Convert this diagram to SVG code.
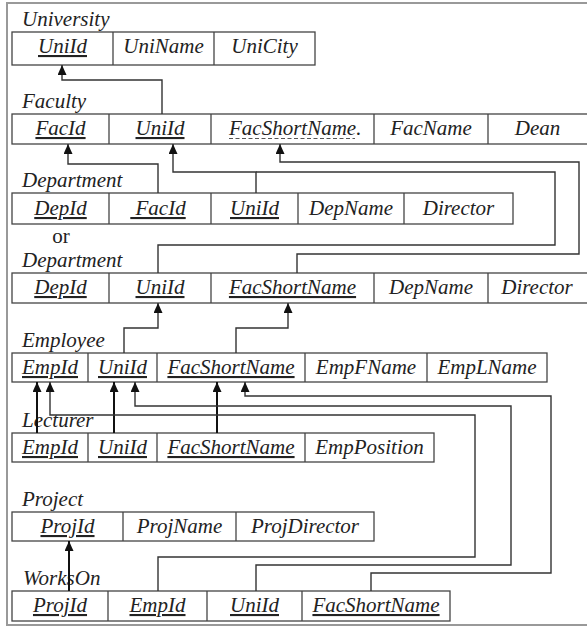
<svg xmlns="http://www.w3.org/2000/svg" width="587" height="628" viewBox="0 0 587 628">
<style>
.t{font-family:"Liberation Serif","Times New Roman",serif;font-style:italic;font-size:21px;fill:#222;}
.c{text-anchor:middle;}
.u{text-decoration:underline;text-decoration-thickness:1px;text-underline-offset:2px;}
.r{font-style:normal;}
.box{fill:none;stroke:#444;stroke-width:1.3;}
.dv{stroke:#444;stroke-width:1.3;}
.cn{fill:none;stroke:#333;stroke-width:1.4;marker-end:url(#ah);}
.cn2{fill:none;stroke:#333;stroke-width:1.4;}
.th{stroke-width:2;stroke:#111;}
</style>
<defs>
<marker id="ah" markerUnits="userSpaceOnUse" markerWidth="10" markerHeight="9" refX="10" refY="4.5" orient="auto">
<path d="M0,0 L10,4.5 L0,9 z" fill="#111"/>
</marker>
</defs>
<rect width="587" height="628" fill="#fff"/>
<path d="M590,3 H7 V625 H590" fill="none" stroke="#999" stroke-width="2"/>

<g id="university">
<text class="t" x="22" y="26">University</text>
<rect class="box" x="12" y="32" width="303" height="33"/>
<line class="dv" x1="113" y1="32" x2="113" y2="65"/>
<line class="dv" x1="214" y1="32" x2="214" y2="65"/>
<text class="t c u" x="62.5" y="53">UniId</text>
<text class="t c" x="163.5" y="53">UniName</text>
<text class="t c" x="264.5" y="53">UniCity</text>
</g>

<g id="faculty">
<text class="t" x="22" y="108">Faculty</text>
<rect class="box" x="12" y="114" width="580" height="30"/>
<line class="dv" x1="109" y1="114" x2="109" y2="144"/>
<line class="dv" x1="211" y1="114" x2="211" y2="144"/>
<line class="dv" x1="374" y1="114" x2="374" y2="144"/>
<line class="dv" x1="488" y1="114" x2="488" y2="144"/>
<text class="t c u" x="60.5" y="135">FacId</text>
<text class="t c u" x="160" y="135">UniId</text>
<text class="t" x="229" y="135">FacShortName.</text>
<line x1="229" y1="138.5" x2="355" y2="138.5" stroke="#555" stroke-width="1" stroke-dasharray="4,2.5"/>
<text class="t c" x="431" y="135">FacName</text>
<text class="t c" x="537.5" y="135">Dean</text>
</g>

<g id="department1">
<text class="t" x="22" y="187">Department</text>
<rect class="box" x="12" y="193" width="501" height="31"/>
<line class="dv" x1="109" y1="193" x2="109" y2="224"/>
<line class="dv" x1="211" y1="193" x2="211" y2="224"/>
<line class="dv" x1="298" y1="193" x2="298" y2="224"/>
<line class="dv" x1="404" y1="193" x2="404" y2="224"/>
<text class="t c u" x="60.5" y="215">DepId</text>
<text class="t c u" x="158" y="215">&#160;FacId</text>
<text class="t c u" x="254.5" y="215">UniId</text>
<text class="t c" x="351" y="215">DepName</text>
<text class="t c" x="458.5" y="215">Director</text>
</g>

<text class="t r" x="61" y="243" text-anchor="middle">or</text>

<g id="department2">
<text class="t" x="22" y="267">Department</text>
<rect class="box" x="12" y="273" width="580" height="30"/>
<line class="dv" x1="109" y1="273" x2="109" y2="303"/>
<line class="dv" x1="211" y1="273" x2="211" y2="303"/>
<line class="dv" x1="374" y1="273" x2="374" y2="303"/>
<line class="dv" x1="488" y1="273" x2="488" y2="303"/>
<text class="t c u" x="60.5" y="294">DepId</text>
<text class="t c u" x="160" y="294">UniId</text>
<text class="t c u" x="292.5" y="294">FacShortName</text>
<text class="t c" x="431" y="294">DepName</text>
<text class="t c" x="537" y="294">Director</text>
</g>

<g id="employee">
<text class="t" x="22" y="347">Employee</text>
<rect class="box" x="12" y="353" width="535" height="29"/>
<line class="dv" x1="88" y1="353" x2="88" y2="382"/>
<line class="dv" x1="157" y1="353" x2="157" y2="382"/>
<line class="dv" x1="305" y1="353" x2="305" y2="382"/>
<line class="dv" x1="427" y1="353" x2="427" y2="382"/>
<text class="t c u" x="50" y="374">EmpId</text>
<text class="t c u" x="122.5" y="374">UniId</text>
<text class="t c u" x="231" y="374">FacShortName</text>
<text class="t c" x="366" y="374">EmpFName</text>
<text class="t c" x="487" y="374">EmpLName</text>
</g>

<g id="lecturer">
<text class="t" x="22" y="427">Lecturer</text>
<rect class="box" x="12" y="433" width="422" height="29"/>
<line class="dv" x1="88" y1="433" x2="88" y2="462"/>
<line class="dv" x1="157" y1="433" x2="157" y2="462"/>
<line class="dv" x1="305" y1="433" x2="305" y2="462"/>
<text class="t c u" x="50" y="454">EmpId</text>
<text class="t c u" x="122.5" y="454">UniId</text>
<text class="t c u" x="231" y="454">FacShortName</text>
<text class="t c" x="369.5" y="454">EmpPosition</text>
</g>

<g id="project">
<text class="t" x="22" y="506">Project</text>
<rect class="box" x="12" y="512" width="362" height="29"/>
<line class="dv" x1="123" y1="512" x2="123" y2="541"/>
<line class="dv" x1="236" y1="512" x2="236" y2="541"/>
<text class="t c u" x="67.5" y="533">ProjId</text>
<text class="t c" x="179.5" y="533">ProjName</text>
<text class="t c" x="305" y="533">ProjDirector</text>
</g>

<g id="workson">
<text class="t" x="23" y="585">WorksOn</text>
<rect class="box" x="12" y="591" width="438" height="30"/>
<line class="dv" x1="108" y1="591" x2="108" y2="621"/>
<line class="dv" x1="207" y1="591" x2="207" y2="621"/>
<line class="dv" x1="302" y1="591" x2="302" y2="621"/>
<text class="t c u" x="60" y="612">ProjId</text>
<text class="t c u" x="157.5" y="612">EmpId</text>
<text class="t c u" x="254.5" y="612">UniId</text>
<text class="t c u" x="376" y="612">FacShortName</text>
</g>

<g id="connectors">
<path class="cn" d="M162,114 V80 H62 V65"/>
<path class="cn" d="M158,193 V164 H68 V144"/>
<path class="cn" d="M256,193 V172 H173 V144"/>
<path class="cn2" d="M158,273 V245 H555 V172 H256"/>
<path class="cn" d="M297,273 V254 H579 V162 H280 V144"/>
<path class="cn" d="M124,353 V328 H158 V303"/>
<path class="cn" d="M236,353 V328 H288 V303"/>
<path class="cn th" d="M37,433 V382"/>
<path class="cn th" d="M114,433 V382"/>
<path class="cn th" d="M217,433 V382"/>
<path class="cn" d="M158,591 V557 H475 V415 H50 V382"/>
<path class="cn" d="M256,591 V565 H511 V406 H135 V382"/>
<path class="cn" d="M371,591 V573 H551 V396 H245 V382"/>
<path class="cn th" d="M69,591 V541"/>
</g>
</svg>
